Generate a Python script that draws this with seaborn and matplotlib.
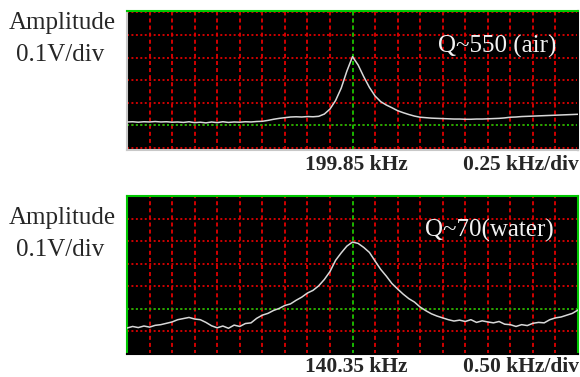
"""
Oscilloscope-style resonance sweeps of the cantilever in air and in water.
"""

import matplotlib
matplotlib.use("Agg")
import matplotlib.pyplot as plt
import seaborn as sns

# sweep positions in screen divisions from the centre frequency
sweep_div = [
    -10.0, -9.75, -9.5, -9.25, -9.0, -8.75, -8.5, -8.25, -8.0, -7.75,
    -7.5, -7.25, -7.0, -6.75, -6.5, -6.25, -6.0, -5.75, -5.5, -5.25,
    -5.0, -4.75, -4.5, -4.25, -4.0, -3.75, -3.5, -3.25, -3.0, -2.75,
    -2.5, -2.25, -2.0, -1.75, -1.5, -1.25, -1.0, -0.75, -0.5, -0.25,
    0.0, 0.25, 0.5, 0.75, 1.0, 1.25, 1.5, 1.75, 2.0, 2.25,
    2.5, 2.75, 3.0, 3.25, 3.5, 3.75, 4.0, 4.25, 4.5, 4.75,
    5.0, 5.25, 5.5, 5.75, 6.0, 6.25, 6.5, 6.75, 7.0, 7.25,
    7.5, 7.75, 8.0, 8.25, 8.5, 8.75, 9.0, 9.25, 9.5, 9.75, 10.0,
]

# amplitude in divisions (0.1 V/div)
amp_air = [
    1.15, 1.16, 1.14, 1.16, 1.15, 1.17, 1.15, 1.16, 1.14, 1.15,
    1.13, 1.16, 1.12, 1.14, 1.11, 1.15, 1.12, 1.16, 1.13, 1.15,
    1.14, 1.16, 1.15, 1.17, 1.18, 1.22, 1.27, 1.31, 1.34, 1.37,
    1.38, 1.37, 1.39, 1.38, 1.40, 1.50, 1.72, 2.10, 2.65, 3.40,
    4.04, 3.67, 3.15, 2.68, 2.30, 2.05, 1.90, 1.78, 1.65, 1.56,
    1.48, 1.41, 1.36, 1.34, 1.32, 1.31, 1.30, 1.29, 1.28, 1.28,
    1.27, 1.27, 1.28, 1.28, 1.29, 1.30, 1.31, 1.33, 1.36, 1.37,
    1.39, 1.40, 1.41, 1.42, 1.43, 1.44, 1.45, 1.46, 1.47, 1.48, 1.49,
]
amp_water = [
    1.15, 1.22, 1.17, 1.24, 1.19, 1.27, 1.30, 1.36, 1.42, 1.52,
    1.57, 1.62, 1.55, 1.52, 1.40, 1.25, 1.16, 1.24, 1.14, 1.28,
    1.22, 1.35, 1.38, 1.58, 1.72, 1.80, 1.93, 2.02, 2.15, 2.22,
    2.38, 2.52, 2.70, 2.82, 3.02, 3.30, 3.65, 4.15, 4.48, 4.78,
    4.96, 4.90, 4.72, 4.50, 4.12, 3.75, 3.45, 3.12, 2.88, 2.65,
    2.45, 2.30, 2.08, 1.92, 1.78, 1.68, 1.60, 1.52, 1.46, 1.50,
    1.44, 1.52, 1.40, 1.47, 1.42, 1.38, 1.44, 1.32, 1.30, 1.22,
    1.30, 1.26, 1.36, 1.40, 1.38, 1.52, 1.60, 1.64, 1.72, 1.80, 1.95,
]

center_air = 199.85   # kHz
center_water = 140.35
step_air = 0.25       # kHz/div
step_water = 0.50

sns.set_style("white")
plt.rcParams['font.family'] = ['Liberation Serif', 'DejaVu Serif']
plt.rcParams['lines.scale_dashes'] = False

RED = '#e00000'
GREEN = '#00c800'
TRACE = '#d8d8d8'
W, H = 580, 377

fig = plt.figure(figsize=(W / 100, H / 100), dpi=100)


def scope(rect, center, step, amp, y_top, green_y, edges):
    ax = fig.add_axes(rect)
    ax.set_facecolor('black')
    freq = [center + step * d for d in sweep_div]
    ax.set_xlim(center - 10 * step, center + 10 * step)
    ax.set_ylim(y_top[0], y_top[1])
    ax.set_xticks([center + step * k for k in range(-10, 11)])
    ax.set_yticks(list(range(0, int(y_top[1]) + 1)))
    ax.tick_params(length=0, labelbottom=False, labelleft=False)
    ax.grid(axis='x', color=RED, lw=1.3, ls=(0, (2.9, 2.2)))
    ax.grid(axis='y', color=RED, lw=1.3, ls=(0, (1.4, 1.8)))
    ax.set_axisbelow(True)
    ax.axvline(center, color=GREEN, lw=1.3, ls=(0, (2.9, 2.2)), zorder=1.5)
    ax.axhline(green_y, color=GREEN, lw=1.3, ls=(0, (1.4, 1.8)), zorder=1.5)
    sns.lineplot(x=freq, y=amp, ax=ax, color=TRACE, lw=1.1, zorder=3)
    for side, col in edges.items():
        ax.spines[side].set_color(col)
        ax.spines[side].set_linewidth(1.5)
    return ax


ax_air = scope([127 / W, (H - 150) / H, 451 / W, 139 / H],
               center_air, step_air, amp_air, (-0.09, 6.06), 1,
               {'top': GREEN, 'left': '#c8c8c8', 'bottom': '#c8c8c8', 'right': 'black'})
ax_water = scope([127 / W, (H - 354) / H, 451 / W, 158 / H],
                 center_water, step_water, amp_water, (0, 7.0), 2,
                 {'top': GREEN, 'left': GREEN, 'right': GREEN, 'bottom': 'black'})


def put(x, y, s, **kw):
    fig.text(x / W, (H - y) / H, s, va='baseline', **kw)


# left labels
for base in (29, 224):
    put(9, base, 'Amplitude', fontsize=18)
    put(16, base + 32, '0.1V/div', fontsize=18)

# quality factors
put(438, 53, 'Q~550 (air)', fontsize=18, color='#f2f2f2')
put(425, 237, 'Q~70(water)', fontsize=18, color='#f2f2f2')

# frequency labels
put(305, 170, f'{center_air:.2f} kHz', fontsize=15.5, fontweight='bold')
put(463, 170, f'{step_air:.2f} kHz/div', fontsize=15.5, fontweight='bold')
put(305, 372, f'{center_water:.2f} kHz', fontsize=15.5, fontweight='bold')
put(463, 372, f'{step_water:.2f} kHz/div', fontsize=15.5, fontweight='bold')

fig.savefig('out.png', dpi=100)
